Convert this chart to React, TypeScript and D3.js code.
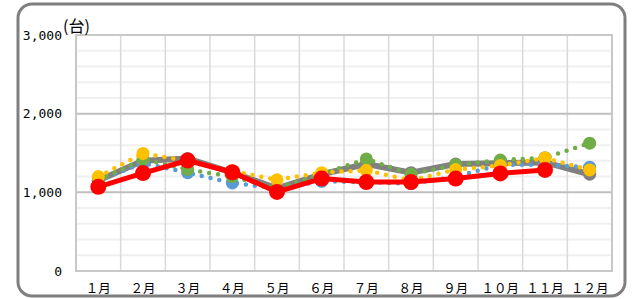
import React from "react";
import * as d3 from "d3";

const months = ["１月", "２月", "３月", "４月", "５月", "６月", "７月", "８月", "９月", "１０月", "１１月", "１２月"];
const grayValues = [1150, 1400, 1430, 1250, 1050, 1230, 1360, 1250, 1360, 1370, 1380, 1230];
const blueValues = [1150, 1370, 1250, 1120, 1050, 1140, 1130, 1110, 1200, 1350, 1350, 1320];
const greenValues = [1150, 1420, 1290, 1200, 1050, 1230, 1425, 1230, 1350, 1410, 1440, 1625];
const yellowValues = [1200, 1495, 1400, 1270, 1160, 1250, 1280, 1150, 1290, 1340, 1435, 1285];
const redValues = [1070, 1245, 1405, 1255, 1005, 1175, 1130, 1130, 1175, 1240, 1285, null];
const yTicks = [0, 1000, 2000, 3000];
const yTickLabels = ["0", "1,000", "2,000", "3,000"];

const font = "'Noto Sans CJK JP', sans-serif";

const App = () => {
  const svgRef = React.useRef(null);
  const width = 636;
  const height = 299;
  const margin = { top: 35, right: 24, bottom: 28, left: 76 };

  React.useEffect(() => {
    drawChart();
  }, []);

  const drawChart = () => {
    const svg = d3.select(svgRef.current);
    svg.selectAll("*").remove();

    const x = d3
      .scaleBand()
      .domain(months)
      .range([margin.left, width - margin.right]);
    const y = d3
      .scaleLinear()
      .domain([0, 3000])
      .range([height - margin.bottom, margin.top]);
    const cx = (i) => x(months[i]) + x.bandwidth() / 2;

    // outer frame
    svg
      .append("rect")
      .attr("x", 18)
      .attr("y", 4)
      .attr("width", 607)
      .attr("height", 292)
      .attr("rx", 14)
      .attr("fill", "#fff")
      .attr("stroke", "#7f7f7f")
      .attr("stroke-width", 3);

    // minor gridlines
    svg
      .append("g")
      .selectAll("line")
      .data(d3.range(200, 3000, 200).filter((v) => v % 1000 !== 0))
      .join("line")
      .attr("x1", margin.left)
      .attr("x2", width - margin.right)
      .attr("y1", (d) => y(d))
      .attr("y2", (d) => y(d))
      .attr("stroke", "#f0f0f0")
      .attr("stroke-width", 2);

    // vertical gridlines
    svg
      .append("g")
      .selectAll("line")
      .data(months.slice(1))
      .join("line")
      .attr("x1", (d) => x(d))
      .attr("x2", (d) => x(d))
      .attr("y1", margin.top)
      .attr("y2", height - margin.bottom)
      .attr("stroke", "#d9d9d9")
      .attr("stroke-width", 1.5);

    // major gridlines
    svg
      .append("g")
      .selectAll("line")
      .data(yTicks)
      .join("line")
      .attr("x1", margin.left)
      .attr("x2", width - margin.right)
      .attr("y1", (d) => y(d))
      .attr("y2", (d) => y(d))
      .attr("stroke", "#bfbfbf")
      .attr("stroke-width", 2);

    // plot border
    svg
      .append("rect")
      .attr("x", margin.left)
      .attr("y", margin.top)
      .attr("width", width - margin.left - margin.right)
      .attr("height", height - margin.top - margin.bottom)
      .attr("fill", "none")
      .attr("stroke", "#c8c8c8")
      .attr("stroke-width", 2);

    // y labels
    svg
      .append("g")
      .selectAll("text")
      .data(yTicks)
      .join("text")
      .attr("x", 62)
      .attr("y", (d) => y(d))
      .attr("dy", "0.36em")
      .attr("text-anchor", "end")
      .attr("font-family", "'DejaVu Sans Mono', monospace")
      .attr("font-size", 13)
      .attr("fill", "#000")
      .text((d, i) => yTickLabels[i]);

    svg
      .append("text")
      .attr("x", 63)
      .attr("y", 32)
      .attr("font-family", font)
      .attr("font-size", 16)
      .attr("fill", "#000")
      .text("(台)");

    // x labels
    svg
      .append("g")
      .selectAll("text")
      .data(months)
      .join("text")
      .attr("x", (d) => x(d) + x.bandwidth() / 2)
      .attr("y", 293)
      .attr("text-anchor", "middle")
      .attr("font-family", font)
      .attr("font-size", 12.5)
      .attr("fill", "#000")
      .text((d) => d);

    const line = d3
      .line()
      .defined((d) => d != null)
      .x((d, i) => cx(i))
      .y((d) => y(d));

    const series = [
      { values: grayValues, color: "#808080", dotted: false, width: 6, r: 6.5 },
      { values: blueValues, color: "#5b9bd5", dotted: true, width: 4.5, r: 6.5 },
      { values: greenValues, color: "#70ad47", dotted: true, width: 4.5, r: 6.5 },
      { values: yellowValues, color: "#ffc000", dotted: true, width: 4.5, r: 6.5 },
      { values: redValues, color: "#ff0000", dotted: false, width: 5, r: 8 },
    ];

    series.forEach((s) => {
      svg
        .append("path")
        .datum(s.values)
        .attr("d", line)
        .attr("fill", "none")
        .attr("stroke", s.color)
        .attr("stroke-width", s.width)
        .attr("stroke-linecap", "round")
        .attr("stroke-linejoin", "round")
        .attr("stroke-dasharray", s.dotted ? "0 9" : null);
      svg
        .append("g")
        .selectAll("circle")
        .data(s.values.map((v, i) => ({ v, i })).filter((d) => d.v != null))
        .join("circle")
        .attr("cx", (d) => cx(d.i))
        .attr("cy", (d) => y(d.v))
        .attr("r", s.r)
        .attr("fill", s.color);
    });
  };

  return (
    <svg
      ref={svgRef}
      width={width}
      height={height}
      style={{ position: "absolute", left: 0, top: 0 }}
    />
  );
};

export default App;
